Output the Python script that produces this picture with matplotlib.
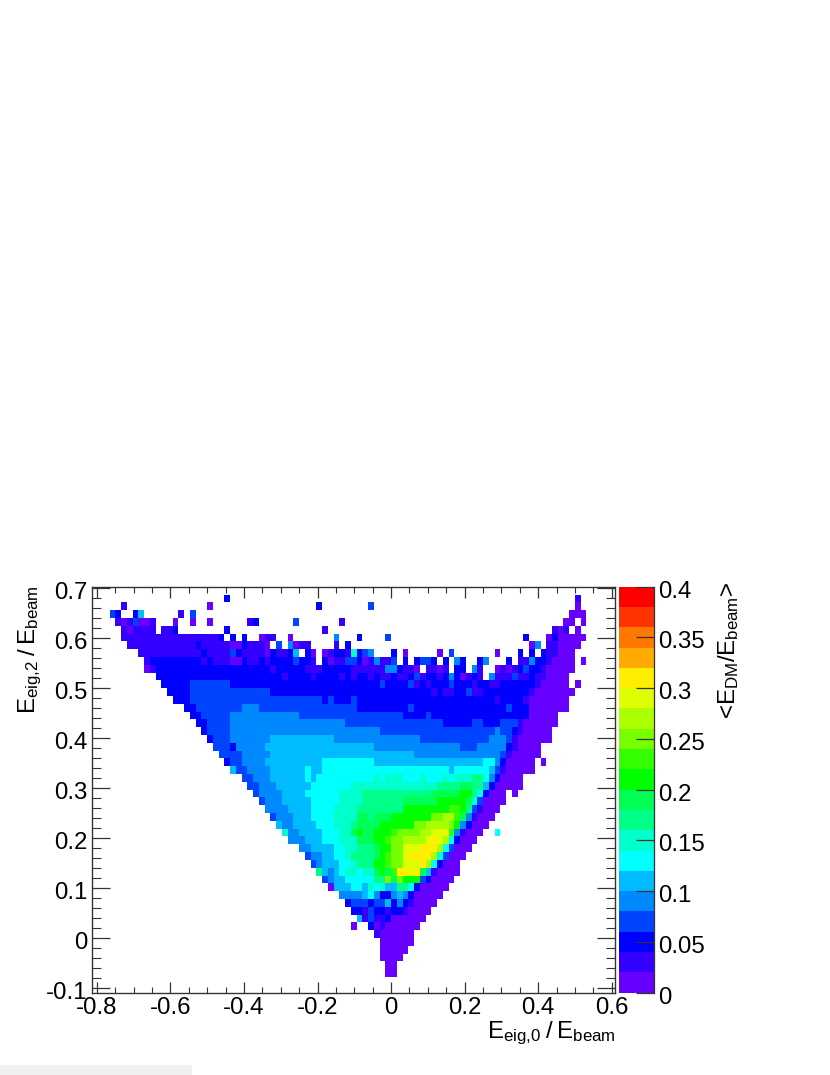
import numpy as np
import matplotlib
matplotlib.use("Agg")
import matplotlib.pyplot as plt
from matplotlib.colors import ListedColormap, BoundaryNorm
from matplotlib.patches import Rectangle
from matplotlib.ticker import MultipleLocator, FixedLocator, FuncFormatter
from matplotlib.transforms import ScaledTranslation

plt.rcParams["font.family"] = ["Liberation Sans", "DejaVu Sans"]
plt.rcParams["mathtext.default"] = "regular"

X_LABEL = "E$_{eig{,}0}$\u2009/\u2009E$_{beam}$"
Y_LABEL = "E$_{eig{,}2}$\u2009/\u2009E$_{beam}$"
Z_LABEL = r"<E$_{DM}$/E$_{beam}$>"

BIN_WIDTH = 1 / 64
X_FIRST_BIN, X_BINS = -52, 91
Y_FIRST_BIN, Y_BINS = -7, 52
Z_STEP = 0.02

band_colors = ["#6600ff", "#3300ff", "#0000ff", "#0044ff", "#0088ff", "#00bbff", "#00ffff",
               "#00ffcc", "#00ff88", "#00ff55", "#00ff00", "#33ff00", "#77ff00", "#aaff00",
               "#ddff00", "#ffee00", "#ffaa00", "#ff7700", "#ff3300", "#ff0000"]

# Mean E_DM/E_beam read per row, top row first: "firstbin-lastbin:band"
rows_top_down = [
"",
"23:2 84:1",
"5:1 20:0 39:2 48:3 84:0",
"3:3 4:2 7:2 8:5 15:1 17:3 83-85:0",
"4:1 5:0 6:1 7:3 8-9:0 10:1 14:0 17:0 20:0 27:1 28:2 35:3 43:1 82-83:0 85:0",
"5:1 6:0 7-10:1 12-13:1 14:2 23:2 40:1 80:1 81:0 82:1 84:0",
"5-21:1 22:2 24:2 26:2 29:0 30-31:1 34:0 42:4 46:2 51:3 75:2 79:0 80:2 81-85:0",
"6-17:1 18:2 19-23:1 24-25:0 26:2 27-29:1 30:0 32:3 34:4 35:0 36-37:1 42:1 44:2 76:0 77:4 79-80:1 81-84:0",
"8-18:1 19:2 20-23:1 24:3 25:2 26-29:1 30:0 31:2 32-33:1 34:2 35:5 37:2 38:0 40:0 41:1 42-43:2 44:1 45:7 46:2 47:3 48:4 52:2 54:0 60:0 62:3 70:0 74:2 76:2 78:2 79-80:1 81-83:0",
"9:1 10-18:2 19:1 20:2 21-23:1 24-25:0 26:2 27-28:1 29:2 30:1 31-34:2 35:3 36-37:2 38:1 40:2 41:0 42-43:1 44-45:3 46:2 47:0 48:1 49:4 50-51:1 52:3 54:2 56:2 57-58:3 59:2 61:2 63:4 64:2 67:2 68:4 72:2 74-75:1 76:4 77-78:2 79:1 80-83:0 85:0",
"9:0 10:1 11-30:2 31:1 32-36:2 37-39:1 40-44:2 45-50:1 51-52:4 53:2 54-55:1 56:0 58-59:1 60:0 61:1 63-64:2 66:4 67:1 70:0 71:1 72:0 73:1 74:2 75:3 76-77:2 78:1 79-83:0",
"11-32:2 33:1 34-37:2 38:1 39-42:2 43:1 44:2 45:1 46-47:2 48:1 49:2 50-51:1 52:2 53-54:1 55:2 56:3 57:1 58-59:2 60:1 61:2 62:4 63:2 64:0 65:1 66:2 67:1 69:4 70-72:1 73:3 74-75:1 76:2 77-78:1 79-82:0",
"12-16:2 17-23:3 24-49:2 50:3 51-54:2 55:3 56:1 57:2 58:1 59-61:2 62:3 63-65:2 66:1 67-68:2 69-70:1 71-76:2 77:1 78-82:0 84:0",
"13-16:2 17-30:3 31-58:2 59:1 60:2 61-62:1 63-64:2 65:3 66-67:1 68-75:2 76:1 77-83:0",
"14-16:2 17-39:3 40:2 41:3 42-44:2 45:3 46-69:2 70:1 71-74:2 75:1 76-82:0",
"16-17:2 18-25:3 26-28:4 29-45:3 46-54:2 55:3 56-71:2 72:3 73-75:2 76-82:0",
"17-18:2 19-23:3 24-35:4 36-53:3 54-57:2 58:3 59-75:2 76-80:0",
"18-19:2 20-23:3 24-43:4 44-60:3 61-65:2 66-67:3 68-70:2 71-73:3 74:1 75-80:0",
"19:2 20-23:3 24-49:4 50-69:3 70:4 71-72:3 73:2 74:1 75-79:0",
"20:2 21-23:3 24-30:4 31-41:5 42-56:4 57-68:3 69-71:4 72:3 73:1 74-79:0",
"21-23:3 24:2 25-29:4 30-48:5 49-63:4 64-66:3 67-71:4 72:2 73:1 74-77:0",
"22-25:3 26-30:4 31-55:5 56-70:4 71:3 72:1 73-77:0",
"23:2 24-25:3 26-29:4 30-39:5 40-48:6 49-67:5 68-69:6 70:4 71:2 72-76:0 78:0",
"24:5 25-26:3 27-30:4 31-36:5 37:6 38-39:5 40-61:6 62:5 63-68:6 69:5 70:3 71:1 72-76:0",
"26-27:3 28-30:4 31-36:5 37:6 38:5 39-48:6 49:7 50:6 51-53:7 54-56:6 57:7 58-60:6 61:7 62:6 63-65:7 66-67:8 68:6 69:4 70:2 71-74:0",
"27-28:3 29-31:4 32-37:5 38-44:6 45-59:7 60-63:8 64-65:9 66-67:8 68:5 69:2 70-74:0",
"28:3 29-32:4 33-36:5 37-42:6 43-46:7 47-58:8 59-63:9 64-65:10 66:8 67:6 68:2 69-71:0 73:0",
"29:3 30-32:4 33-37:5 38-42:6 43-46:7 47-53:8 54-59:9 60-64:10 65:9 66:7 67:3 68-71:0",
"30-33:4 34-37:5 38-41:6 42-45:7 46-53:8 54-61:10 62-63:11 64:10 65:8 66:3 67:1 68-70:0",
"31:3 32-34:4 35-37:5 38-41:6 42-45:7 46-47:9 48:8 49-51:9 52-58:10 59-60:12 61-62:13 63:11 64:9 65:4 66:1 67-69:0",
"32:5 33-34:4 35-38:5 39-41:6 42-44:7 45:8 46-49:9 50-55:10 56-57:12 58-61:13 62:12 63:10 64:4 65:2 66-68:0",
"33:7 34-35:4 36-39:5 40-42:6 43-44:7 45:9 46:10 47-48:9 49-51:10 52:11 53-56:12 57-58:13 59-61:14 62:11 63:4 64:1 65-67:0 70:6",
"34-36:4 37-39:5 40-42:6 43-45:7 46-48:9 49-50:10 51:11 52-53:12 54-57:13 58:14 59:15 60:14 61:13 62:6 63:2 64-66:0",
"36-37:4 38-41:5 42-43:6 44-45:7 46-48:8 49:9 50-51:10 52-53:12 54-56:14 57-59:15 60:13 61:6 62:3 63-65:0",
"37:3 38-39:4 40-41:5 42-43:6 44:7 45-48:8 49:9 50:10 51:11 52-53:12 54:14 55-58:15 59:13 60:7 61:3 62-64:0",
"38:3 39:4 40-42:5 43-44:6 45:7 46-48:8 49-50:10 51:11 52-53:12 54-56:14 57:15 58:13 59:6 60:2 61-63:0",
"39:8 40:5 41:4 42:5 43:6 44-45:7 46:6 47-48:7 49:9 50:10 51:9 52:11 53-54:15 55:14 56:15 57:9 58:5 59:1 60-63:0",
"40:3 41:4 42-43:5 44-48:6 49-50:8 51:12 52:9 53:12 54-56:10 57:3 58:2 59-62:0",
"41:0 42-44:5 45-46:6 47:5 48:7 49:6 50:7 51-52:5 53-54:8 55:6 56:2 57-61:0",
"43-46:4 47:5 48:6 49:4 50-51:2 52:4 53:5 54:4 55:2 56-60:0",
"44:2 45-47:3 48:2 49-50:3 51:5 52:2 53:4 54:2 55:1 56-59:0",
"45-46:2 47:1 48:3 49-50:2 51:1 52-53:2 54:1 55-58:0",
"46:5 47:1 48:3 49-50:1 51:2 52-57:0",
"45:0 48:2 49:0 50:1 51-56:0",
"49:1 50-55:0",
"50-55:0",
"50-54:0",
"50-53:0",
"51-52:0",
"51-52:0",
"",
"",
]

x_ticks = [-0.8, -0.6, -0.4, -0.2, 0, 0.2, 0.4, 0.6]
y_ticks = [-0.1, 0, 0.1, 0.2, 0.3, 0.4, 0.5, 0.6, 0.7]
z_ticks = [0, 0.05, 0.1, 0.15, 0.2, 0.25, 0.3, 0.35, 0.4]

W, H = 830, 1075


def box(l, t, r, b):
    return [l / W, 1 - b / H, (r - l) / W, (b - t) / H]


grid = np.full((Y_BINS, X_BINS), np.nan)
for r, spec in enumerate(rows_top_down):
    for token in spec.split():
        bins, band = token.split(":")
        first, _, last = bins.partition("-")
        last = last or first
        grid[Y_BINS - 1 - r, int(first):int(last) + 1] = (int(band) + 0.5) * Z_STEP

x_edges = (X_FIRST_BIN + np.arange(X_BINS + 1)) * BIN_WIDTH
y_edges = (Y_FIRST_BIN + np.arange(Y_BINS + 1)) * BIN_WIDTH
z_edges = np.arange(len(band_colors) + 1) * Z_STEP
cmap = ListedColormap(band_colors)
norm = BoundaryNorm(z_edges, cmap.N)

fig = plt.figure(figsize=(W / 100, H / 100), dpi=100, facecolor="white")
fig.add_artist(Rectangle((0, 0), 192 / W, 10 / H, transform=fig.transFigure,
                         facecolor="#f0f0f0", edgecolor="none"))

LINE = "#333333"
FS = 17.3
ax = fig.add_axes(box(92.3, 586.7, 615.2, 992.6))
ax.pcolormesh(x_edges, y_edges, np.ma.masked_invalid(grid), cmap=cmap, norm=norm,
              antialiased=True, linewidth=0)
ax.set_xlim(x_edges[0], x_edges[-1])
ax.set_ylim(y_edges[0], y_edges[-1])
for s in ax.spines.values():
    s.set_color(LINE)
    s.set_linewidth(1.0)
ax.xaxis.set_major_locator(FixedLocator(x_ticks))
ax.xaxis.set_minor_locator(MultipleLocator(0.05))
ax.yaxis.set_major_locator(FixedLocator(y_ticks))
ax.yaxis.set_minor_locator(MultipleLocator(0.02))
fmt = FuncFormatter(lambda v, p: f"{v:g}")
ax.xaxis.set_major_formatter(fmt)
ax.yaxis.set_major_formatter(fmt)
ax.tick_params(axis="x", which="major", direction="in", top=True, bottom=True, length=7.7,
               width=0.9, color=LINE, labelsize=FS, pad=3.5)
ax.tick_params(axis="x", which="minor", direction="in", top=True, bottom=True, length=4,
               width=0.8, color=LINE)
ax.tick_params(axis="y", which="major", direction="in", left=True, right=True, length=13,
               width=0.9, color=LINE, labelsize=FS, pad=3.5)
ax.tick_params(axis="y", which="minor", direction="in", left=True, right=True, length=6.5,
               width=0.8, color=LINE)
shift = ScaledTranslation(0, -2.5 / 100, fig.dpi_scale_trans)
for lab in ax.get_yticklabels():
    lab.set_transform(lab.get_transform() + shift)

fig.text(615.5 / W, 1 - 1038 / H, X_LABEL, fontsize=FS, ha="right", va="baseline", color="black")
fig.text(30 / W, 1 - 585 / H, Y_LABEL, fontsize=FS, rotation=90, ha="center", va="top", color="black")

cax = fig.add_axes(box(619.0, 586.7, 653.7, 992.6))
cax.pcolormesh([0, 1], z_edges, np.arange(len(band_colors)).reshape(-1, 1) * Z_STEP + Z_STEP / 2,
               cmap=cmap, norm=norm, antialiased=False, linewidth=0)
cax.set_xlim(0, 1)
cax.set_ylim(z_edges[0], z_edges[-1])
cax.set_xticks([])
for k, s in cax.spines.items():
    s.set_visible(k == "right")
    s.set_color(LINE)
    s.set_linewidth(0.9)
cax.yaxis.tick_right()
cax.yaxis.set_major_locator(FixedLocator(z_ticks))
cax.yaxis.set_major_formatter(fmt)
cax.tick_params(axis="y", which="major", direction="in", length=13, width=0.9, color=LINE,
                labelsize=FS, pad=3)
for lab in cax.get_yticklabels():
    lab.set_transform(lab.get_transform() + shift)

fig.text(729 / W, 1 - 582 / H, Z_LABEL, fontsize=FS, rotation=90, ha="center", va="top", color="black")

fig.savefig("out.png", dpi=100, facecolor="white")
